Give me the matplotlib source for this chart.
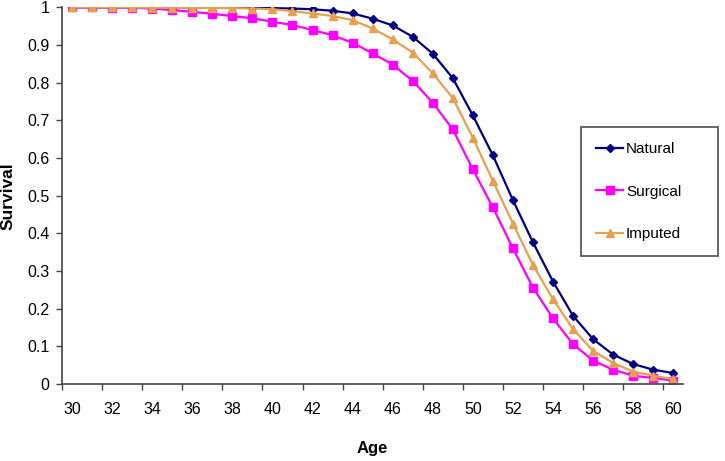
import matplotlib
matplotlib.use("Agg")
import matplotlib.pyplot as plt
import numpy as np

plt.rcParams['font.family'] = ['Liberation Sans', 'DejaVu Sans']

ages = list(range(30, 61))
natural = [1.0, 1.0, 1.0, 1.0, 1.0, 1.0, 1.0, 1.0, 1.0, 0.999, 0.998,
           0.997, 0.995, 0.991, 0.984, 0.970, 0.952, 0.922, 0.877, 0.812, 0.713,
           0.607, 0.488, 0.376, 0.272, 0.181, 0.119, 0.078, 0.053, 0.038, 0.029]
surgical = [1.0, 1.0, 0.999, 0.999, 0.997, 0.993, 0.988, 0.983, 0.977, 0.971, 0.962,
            0.953, 0.940, 0.926, 0.906, 0.878, 0.848, 0.805, 0.747, 0.676, 0.570,
            0.469, 0.360, 0.256, 0.174, 0.106, 0.062, 0.038, 0.022, 0.016, 0.009]
imputed = [1.0, 1.0, 1.0, 1.0, 0.999, 0.999, 0.999, 0.998, 0.998, 0.997, 0.995,
           0.990, 0.984, 0.977, 0.966, 0.944, 0.915, 0.880, 0.825, 0.759, 0.654,
           0.539, 0.426, 0.316, 0.225, 0.146, 0.088, 0.056, 0.033, 0.022, 0.013]
y_ticks = [0, 0.1, 0.2, 0.3, 0.4, 0.5, 0.6, 0.7, 0.8, 0.9, 1]

fig = plt.figure(figsize=(7.25, 4.61), dpi=100)
ax = fig.add_axes([0.0855, 0.167, 0.857, 0.817])

# category axis: points sit in the middle of each slot
pos = np.arange(len(ages))
ax.plot(pos, natural, color='#000080', lw=1.6, marker='D', ms=4, label='Natural')
ax.plot(pos, surgical, color='#FF00FF', lw=1.6, marker='s', ms=5.5, label='Surgical')
ax.plot(pos, imputed, color='#E6A050', lw=1.6, marker='^', ms=5.5, label='Imputed')

ax.set_xlim(-0.5, len(ages) - 0.5)
ax.set_ylim(0, 1)

# tick marks on slot borders, labels on every second category
ax.set_xticks(np.arange(-0.5, len(ages) - 1, 2))
ax.set_xticklabels([])
ax.set_xticks(pos[::2], minor=True)
ax.set_xticklabels([str(a) for a in ages[::2]], minor=True)
ax.tick_params(axis='x', which='major', direction='out', length=4, width=1, color='#444444')
ax.tick_params(axis='x', which='minor', length=0, pad=13, labelsize=11.5)

ax.set_yticks(y_ticks)
ax.set_yticklabels(['%g' % v for v in y_ticks])
ax.tick_params(axis='y', direction='out', length=4, width=1, color='#444444', labelsize=11.5, pad=5)

for side in ['top', 'right']:
    ax.spines[side].set_visible(False)
for side in ['left', 'bottom']:
    ax.spines[side].set_color('#444444')
    ax.spines[side].set_linewidth(1.2)

ax.set_xlabel('Age', fontsize=12, fontweight='bold', labelpad=17)
ax.set_ylabel('Survival', fontsize=12.5, fontweight='bold')
ax.yaxis.set_label_coords(-0.074, 0.5)

leg = fig.legend(loc='upper left', bbox_to_anchor=(0.801, 0.447, 0.189, 0.2775),
                 mode='expand', fontsize=11,
                 frameon=True, fancybox=False, labelspacing=1.86, handlelength=1.77,
                 handletextpad=0.2, borderpad=1.0, borderaxespad=0)
leg.get_frame().set_edgecolor('#333333')
leg.get_frame().set_linewidth(1.3)

plt.savefig('out.png', dpi=100)
plt.close()
